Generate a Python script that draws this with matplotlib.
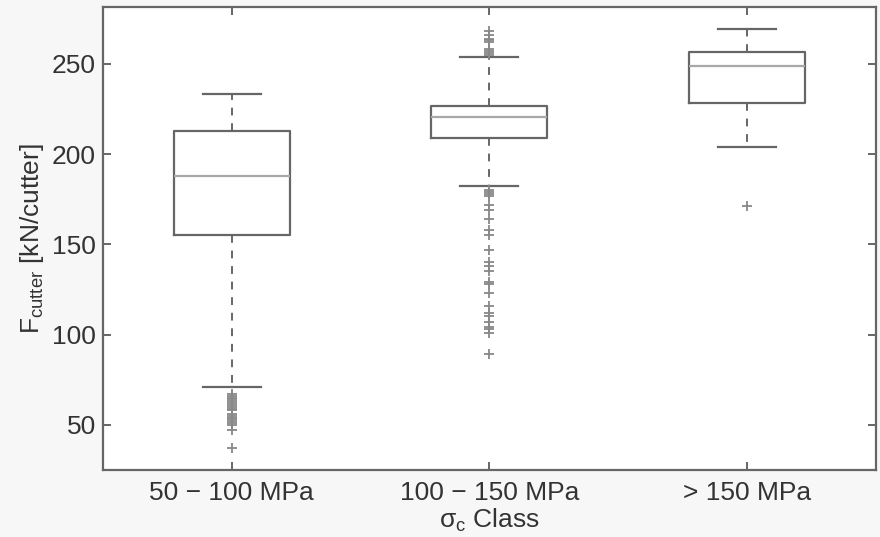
import matplotlib
matplotlib.use("Agg")
import matplotlib.pyplot as plt

plt.rcParams['font.family'] = ['Liberation Sans', 'DejaVu Sans']
plt.rcParams['mathtext.fontset'] = 'custom'
plt.rcParams['mathtext.rm'] = 'Liberation Sans'
plt.rcParams['mathtext.it'] = 'Liberation Sans'
plt.rcParams['mathtext.default'] = 'regular'

# cutter force statistics per UCS class
classes = ['50 \u2212 100 MPa', '100 \u2212 150 MPa', '> 150 MPa']
q1 = [155.3, 209.0, 228.4]
med = [187.6, 220.6, 248.9]
q3 = [212.9, 226.7, 256.6]
whis_lo = [71.0, 182.4, 204.0]
whis_hi = [233.4, 253.6, 269.4]
outliers = [
    [67, 66, 65, 64, 63, 62, 61, 60, 59, 58, 56, 55, 54, 53, 52, 51, 50, 47, 37],
    [268, 266, 264, 263, 262, 258, 257, 256, 255,
     180, 179, 178, 177, 172, 169, 164, 158, 155, 147, 140, 138, 135,
     129, 128, 123, 116, 112, 110, 107, 104, 103, 101, 89],
    [171.3],
]

stats = []
for i in range(len(classes)):
    stats.append(dict(med=med[i], q1=q1[i], q3=q3[i],
                      whislo=whis_lo[i], whishi=whis_hi[i],
                      fliers=outliers[i], label=classes[i]))

fig = plt.figure(figsize=(8.8, 5.37), dpi=100, facecolor='#f7f7f7')
ax = fig.add_axes([0.117, 0.125, 0.878, 0.862])

edge = '#666666'
ax.bxp(stats, positions=[1, 2, 3], widths=0.45, capwidths=0.225,
       boxprops=dict(color=edge, linewidth=1.6),
       medianprops=dict(color='#a8a8a8', linewidth=1.6),
       whiskerprops=dict(color=edge, linewidth=1.4, linestyle=(0, (4, 4))),
       capprops=dict(color=edge, linewidth=1.6),
       flierprops=dict(marker='+', markeredgecolor='#888888', markersize=7,
                       markeredgewidth=1.3, linestyle='none'))

ax.set_xlim(0.5, 3.5)
ax.set_ylim(25, 281.5)
ax.set_yticks([50, 100, 150, 200, 250])
ax.set_xticks([1, 2, 3])
ax.set_xticklabels(classes)

for s in ax.spines.values():
    s.set_color(edge)
    s.set_linewidth(1.6)
ax.tick_params(direction='in', length=6, width=1.4, color=edge,
               top=True, right=True, labelsize=19, labelcolor='#333333', pad=5)
ax.tick_params(axis='x', pad=8)

ax.set_ylabel(r'F$_{cutter}$ [kN/cutter]', fontsize=19, color='#333333', labelpad=4)
ax.set_xlabel(r'$\sigma_{c}$ Class', fontsize=19, color='#333333', labelpad=1)

fig.savefig('out.png', dpi=100, facecolor=fig.get_facecolor())
